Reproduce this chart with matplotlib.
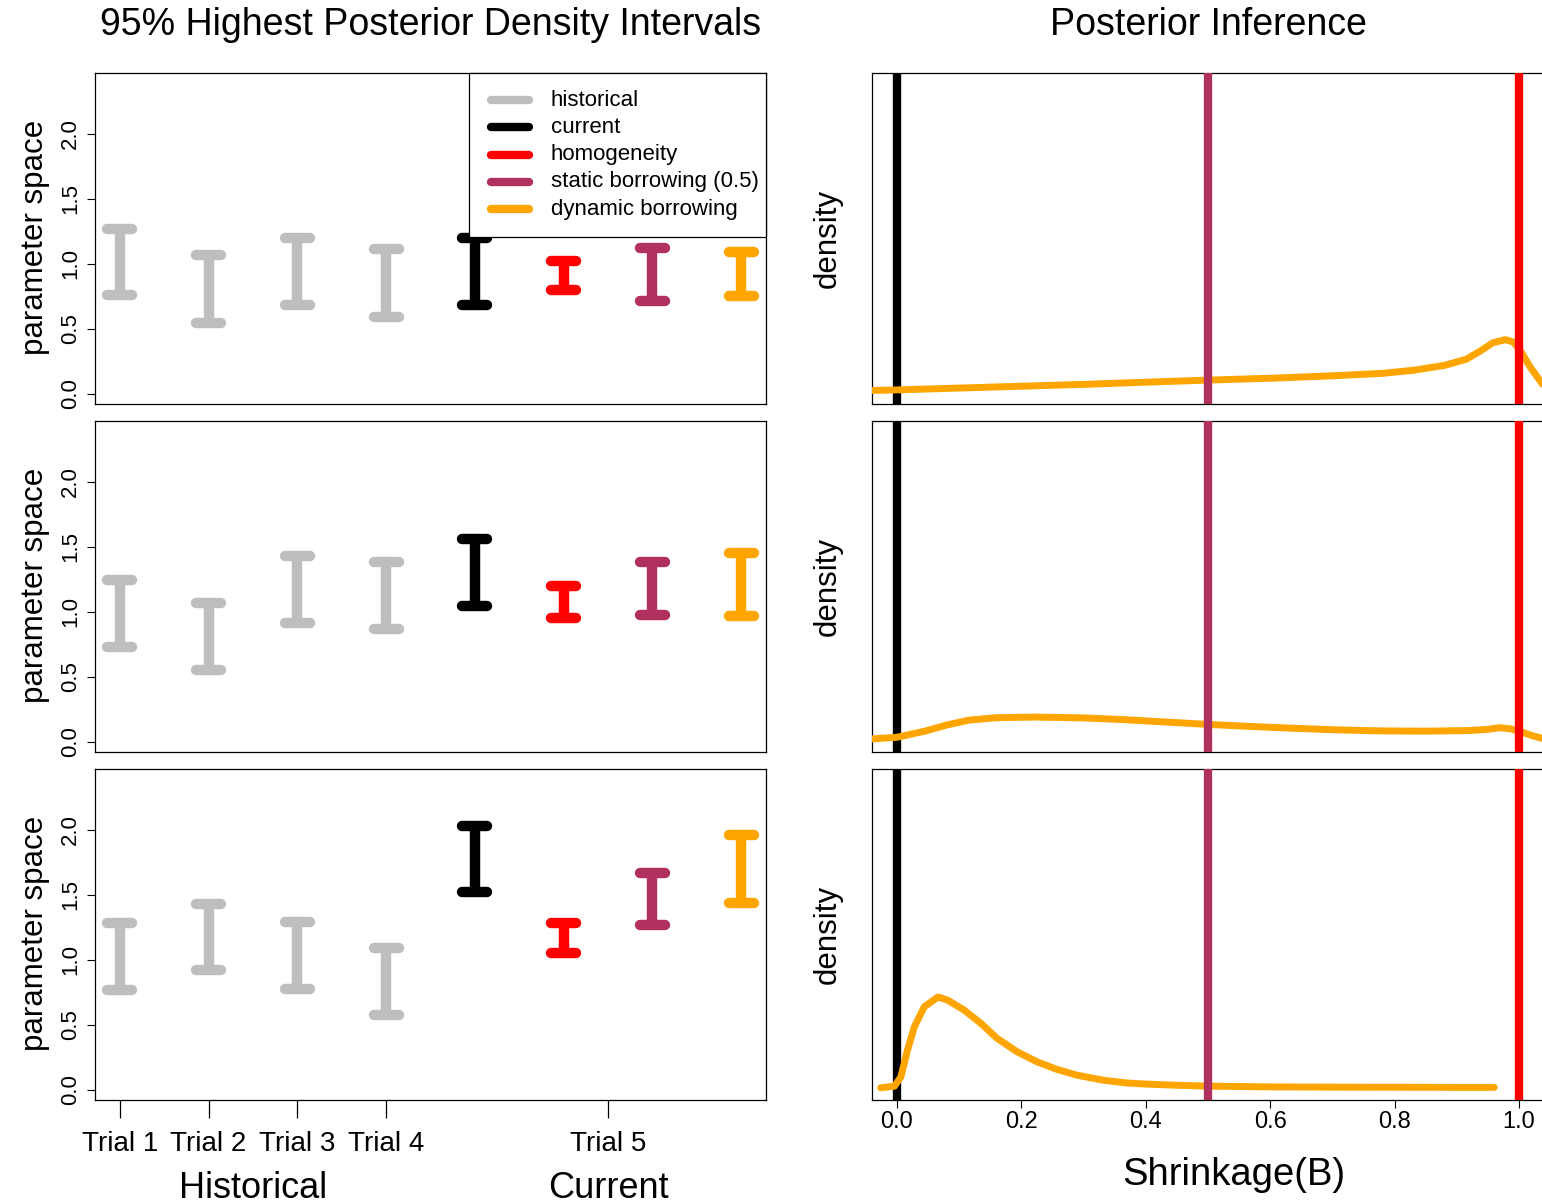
import matplotlib
matplotlib.use('Agg')
import matplotlib.pyplot as plt
from matplotlib.lines import Line2D
from matplotlib.patches import Rectangle

plt.rcParams['font.family'] = ['Liberation Sans', 'DejaVu Sans']

# ---------------- data ----------------
positions = [1, 2, 3, 4, 5, 6, 7, 8]
trial_tick_pos = [1, 2, 3, 4, 6.5]
trial_labels = ['Trial 1', 'Trial 2', 'Trial 3', 'Trial 4', 'Trial 5']
group_labels = ['Historical', 'Current']
group_pos = [2.5, 6.5]

series_names = ['historical', 'current', 'homogeneity',
                'static borrowing (0.5)', 'dynamic borrowing']
series_colors = ['#BEBEBE', '#000000', '#FF0000', '#B03060', '#FFA500']
interval_series = [0, 0, 0, 0, 1, 2, 3, 4]

lower_1 = [0.757, 0.548, 0.687, 0.595, 0.687, 0.795, 0.718, 0.749]
upper_1 = [1.264, 1.064, 1.195, 1.110, 1.195, 1.018, 1.118, 1.087]
lower_2 = [0.730, 0.554, 0.915, 0.870, 1.046, 0.954, 0.977, 0.970]
upper_2 = [1.246, 1.070, 1.430, 1.385, 1.560, 1.200, 1.385, 1.454]
lower_3 = [0.770, 0.923, 0.777, 0.577, 1.523, 1.050, 1.270, 1.440]
upper_3 = [1.285, 1.430, 1.290, 1.090, 2.030, 1.280, 1.667, 1.960]

y_ticks = [0.0, 0.5, 1.0, 1.5, 2.0]

B_1 = [-0.045, 0.0, 0.1, 0.2, 0.3, 0.4, 0.5, 0.6, 0.7, 0.78, 0.83, 0.88,
       0.915, 0.937, 0.958, 0.978, 0.991, 1.002, 1.018, 1.037, 1.05]
dens_1 = [0.1, 0.15, 0.3, 0.45, 0.6, 0.78, 0.95, 1.1, 1.3, 1.5, 1.75, 2.15,
          2.65, 3.3, 4.0, 4.25, 4.05, 3.35, 2.0, 0.65, 0.1]

B_2 = [-0.045, 0.0, 0.045, 0.08, 0.116, 0.16, 0.221, 0.3, 0.361, 0.43, 0.5,
       0.57, 0.64, 0.71, 0.78, 0.85, 0.92, 0.95, 0.968, 0.985, 1.0, 1.02, 1.045]
dens_2 = [0.05, 0.2, 0.7, 1.2, 1.6, 1.8, 1.85, 1.78, 1.65, 1.45, 1.25,
          1.08, 0.93, 0.8, 0.72, 0.7, 0.75, 0.85, 0.98, 0.9, 0.7, 0.35, 0.0]

B_3 = [-0.026, -0.004, 0.0064, 0.017, 0.028, 0.044, 0.066, 0.081, 0.108,
       0.135, 0.161, 0.193, 0.225, 0.257, 0.289, 0.332, 0.369, 0.4, 0.45,
       0.5, 0.6, 0.7, 0.8, 0.9, 0.96]
dens_3 = [0.0, 0.12, 0.88, 3.06, 4.96, 6.6, 7.4, 7.16, 6.34, 5.25, 4.03,
          2.94, 2.12, 1.5, 1.03, 0.61, 0.39, 0.3, 0.2, 0.13, 0.07, 0.05,
          0.04, 0.03, 0.03]

ref_B = [0.0, 0.5, 1.0]
ref_colors = ['#000000', '#B03060', '#FF0000']
x_ticks_right = [0.0, 0.2, 0.4, 0.6, 0.8, 1.0]

lowers = [lower_1, lower_2, lower_3]
uppers = [upper_1, upper_2, upper_3]
Bs = [B_1, B_2, B_3]
denss = [dens_1, dens_2, dens_3]

# ---------------- layout ----------------
W, H = 1542, 1204
fig = plt.figure(figsize=(W / 100, H / 100), dpi=100)

row_tops = [73, 421, 769]
row_h = 331
left_x0, left_w = 95, 671
right_x0, right_w = 872, 672


def frac_rect(x0, top, w, h):
    return [x0 / W, 1 - (top + h) / H, w / W, h / H]


cap_half = 0.14
lw_int = 7.5

for r in range(3):
    axL = fig.add_axes(frac_rect(left_x0, row_tops[r], left_w, row_h))
    axR = fig.add_axes(frac_rect(right_x0, row_tops[r], right_w, row_h))

    # ---- left: intervals
    for i, p in enumerate(positions):
        c = series_colors[interval_series[i]]
        lo, hi = lowers[r][i], uppers[r][i]
        axL.vlines(p, lo, hi, colors=c, linewidth=lw_int, capstyle='butt')
        axL.hlines([lo, hi], p - cap_half, p + cap_half, colors=c,
                   linewidth=lw_int, capstyle='round')
    axL.set_xlim(0.72, 8.28)
    axL.set_ylim(-0.077, 2.466)
    axL.set_yticks(y_ticks)
    axL.set_yticklabels([f'{v:.1f}' for v in y_ticks], rotation=90,
                        va='center', fontsize=16)
    axL.tick_params(axis='y', length=6, width=0.8, pad=4)
    for s in axL.spines.values():
        s.set_linewidth(0.9)

    if r == 2:
        axL.set_xticks(trial_tick_pos)
        axL.set_xticklabels(trial_labels, fontsize=20)
        axL.tick_params(axis='x', length=13, width=0.9, pad=9)
        ticks = axL.xaxis.get_major_ticks()
        for k, t in enumerate(ticks):
            t.tick1line.set_color('#3a4654' if k < 4 else '#4e2233')
        for gl, gp in zip(group_labels, group_pos):
            axL.text(gp, -0.268, gl, transform=axL.get_xaxis_transform(),
                     ha='center', va='center', fontsize=26)
    else:
        axL.set_xticks([])

    if r == 0:
        # manual legend box, positioned in axes pixel terms
        def ax_x(px):
            return (px - left_x0) / left_w

        def ax_y(py):
            return 1 - (py - row_tops[0]) / row_h

        box = Rectangle((ax_x(469), ax_y(237)), ax_x(766) - ax_x(469),
                        ax_y(73) - ax_y(237), transform=axL.transAxes,
                        facecolor='white', edgecolor='black', linewidth=0.9,
                        zorder=5, clip_on=False)
        axL.add_patch(box)
        for k, (nm, c) in enumerate(zip(series_names, series_colors)):
            py = 100 + k * 27.3
            axL.add_line(Line2D([ax_x(491), ax_x(529)], [ax_y(py), ax_y(py)],
                                transform=axL.transAxes, color=c, linewidth=6,
                                solid_capstyle='round', zorder=6))
            axL.text(ax_x(551), ax_y(py), nm, transform=axL.transAxes,
                     ha='left', va='center', fontsize=16, zorder=6)

    fig.text(35 / W, 1 - (row_tops[r] + row_h / 2 - 1) / H, 'parameter space',
             rotation=90, ha='center', va='center', fontsize=22.5)

    # ---- right: densities
    axR.axvline(ref_B[0], color=ref_colors[0], linewidth=6, zorder=2)
    axR.plot(Bs[r], denss[r], color='#FFA500', linewidth=5,
             solid_capstyle='round', solid_joinstyle='round', zorder=3)
    axR.axvline(ref_B[1], color=ref_colors[1], linewidth=6, zorder=4)
    axR.axvline(ref_B[2], color=ref_colors[2], linewidth=6, zorder=4)
    axR.set_xlim(-0.04, 1.04)
    axR.set_ylim(-1, 26)
    axR.set_yticks([])
    for s in axR.spines.values():
        s.set_linewidth(0.9)
    if r == 2:
        axR.set_xticks(x_ticks_right)
        axR.set_xticklabels([f'{v:.1f}' for v in x_ticks_right], fontsize=17)
        axR.tick_params(axis='x', length=6, width=0.8, pad=2)
        axR.text((1234 - right_x0) / right_w, -0.226, 'Shrinkage(B)',
                 transform=axR.transAxes, ha='center', va='center',
                 fontsize=27.5)
    else:
        axR.set_xticks([])

    fig.text(828 / W, 1 - (row_tops[r] + row_h / 2) / H, 'density',
             rotation=90, ha='center', va='center', fontsize=22.5)

fig.text(430.5 / W, 1 - 25 / H, '95% Highest Posterior Density Intervals',
         ha='center', va='center', fontsize=27)
fig.text(1208 / W, 1 - 25 / H, 'Posterior Inference',
         ha='center', va='center', fontsize=27)

fig.savefig('out.png', dpi=100)
